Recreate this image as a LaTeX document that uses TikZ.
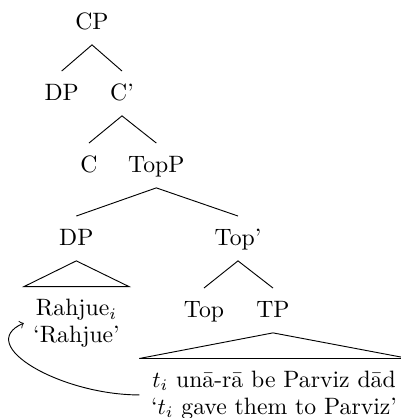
\documentclass[tikz,border=0pt]{standalone}
\begin{document}
\begin{tikzpicture}[x=0.4348pt,y=-0.4348pt,
  every node/.style={font=\fontsize{10.3pt}{11.6pt}\selectfont},
  lbl/.style={inner xsep=2pt,inner ysep=4pt,text height=8.4pt,text depth=2.7pt,anchor=base},
  leaf/.style={align=center,inner ysep=5.2pt,anchor=north},
  branch/.style={line width=0.4pt},
  move/.style={line width=0.4pt,->}]
\useasboundingbox (0,0) rectangle (401,418);
\clip (0,0) rectangle (401,418);
\node[lbl] (CP) at (92,29) {CP};
\node[lbl] (DPa) at (61.7,100) {DP};
\node[lbl] (Cbar) at (122,100) {C'};
\node[lbl] (C) at (89,172) {C};
\node[lbl] (TopP) at (156.3,172) {TopP};
\node[lbl] (DPb) at (76.3,245) {DP};
\node[lbl] (Topbar) at (238,245) {Top'};
\node[lbl] (Top) at (204,317) {Top};
\node[lbl] (TP) at (273,317) {TP};
\node[leaf,inner xsep=3.9pt] (Rah) at (76.5,286.7) {Rahjue$_i$\\`Rahjue'};
\node[leaf,inner xsep=4.9pt] (Bot) at (274,358.5) {$t_i$ un\=a-r\=a be Parviz d\=ad\\`$t_i$ gave them to Parviz'};
\draw[branch] (DPa.north) -- (CP.south) -- (Cbar.north);
\draw[branch] (C.north) -- (Cbar.south) -- (TopP.north);
\draw[branch] (DPb.north) -- (TopP.south) -- (Topbar.north);
\draw[branch] (Top.north) -- (Topbar.south) -- (TP.north);
\draw[branch] (DPb.south) -- (Rah.north west) -- (Rah.north east) -- cycle;
\draw[branch] (TP.south) -- (Bot.north west) -- (Bot.north east) -- cycle;
\draw[move] (Bot.west) .. controls +(-78,0) and +(-50,22) .. (Rah.west);
\end{tikzpicture}
\end{document}
